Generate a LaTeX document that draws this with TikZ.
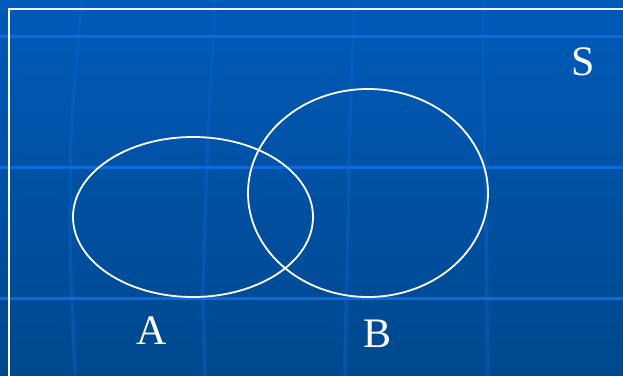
\documentclass[tikz,border=0pt]{standalone}
\usepackage{fontspec}
\setmainfont{Liberation Serif}
\definecolor{bgtop}{RGB}{0,90,184}
\definecolor{bgbot}{RGB}{0,72,142}
\definecolor{hline}{RGB}{12,106,218}
\definecolor{vline}{RGB}{8,98,196}
\begin{document}
\begin{tikzpicture}[x=1pt,y=-1pt,
  gridh/.style={hline,line width=3pt},
  gridv/.style={vline,line width=3.5pt,opacity=0.5},
  venn/.style={white,line width=1.8pt},
  lbl/.style={text=white,font=\fontsize{42}{48}\selectfont,inner sep=0pt}]
\useasboundingbox (0,0) rectangle (623,375);
\fill[bgbot] (0,0) rectangle (623,375);
\shade[top color=bgtop,bottom color=bgbot] (0,0) rectangle (623,375);
% faint curved vertical grid lines
\draw[gridv] plot[smooth] coordinates {(82,0) (72,120) (70,220) (72,300) (75,375)};
\draw[gridv] plot[smooth] coordinates {(215,0) (208,140) (204,250) (203,300) (205,375)};
\draw[gridv] plot[smooth] coordinates {(355,0) (350,120) (348,230) (346,310) (345,375)};
\draw[gridv] plot[smooth] coordinates {(483,0) (484,120) (486,230) (487,310) (487,375)};
% horizontal grid lines
\draw[gridh] (0,36) -- (623,36);
\draw[gridh] (0,167) -- (623,167);
\draw[gridh] (0,298) -- (623,298);
% white frame
\draw[white,line width=2pt] (9,378) -- (9,9) -- (626,9);
% Venn ellipses
\draw[venn] (193,217) ellipse (120 and 80);
\draw[venn] (368,193) ellipse (120 and 104);
% labels
\node[lbl] (S) at (583,62) {S};
\node[lbl] (A) at (152,331) {A};
\node[lbl] (B) at (378,334) {B};
\end{tikzpicture}
\end{document}
